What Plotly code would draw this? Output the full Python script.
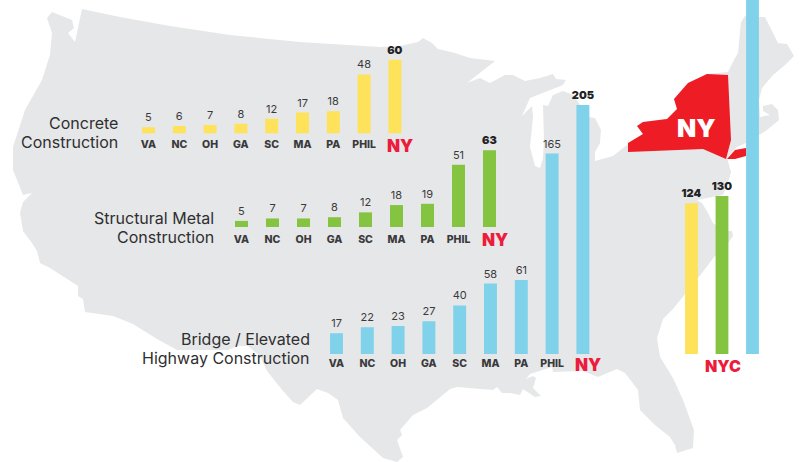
import plotly.graph_objects as go

W, H = 801, 462
FONT = "Inter"
INK = "#3a3a3c"
RED_LABEL = "#ed1c3c"

categories = ["VA", "NC", "OH", "GA", "SC", "MA", "PA", "PHIL", "NY"]
concrete_values = [5, 6, 7, 8, 12, 17, 18, 48, 60]
structural_values = [5, 7, 7, 8, 12, 18, 19, 51, 63]
bridge_values = [17, 22, 23, 27, 40, 58, 61, 165, 205]
nyc_categories = ["Concrete", "Structural Metal", "Bridge / Elevated"]
nyc_values = [124, 130, 300]  # third bar runs off the top of the picture, value estimated

# Background map silhouettes, traced in picture units
us_x = [82,120,170,230,300,380,400,418,423,432,438,455,470,495,467,480,490,505,513,525,540,553,556,566,563,550,540,530,522,532,533,530,535,540,543,544,543,548,553,563,573,589,595,601,600,595,595,613,628,
        643,637,643,667,677,674,688,707,728,735,738,741,745,759,765,770,778,787,794,785,773,762,759,760,770,763,763,772,778,779,767,759,746,737,727,731,728,723,697,702,708,713,723,732,733,728,715,698,685,673,663,657,660,673,683,694,693,677,675,670,655,640,638,625,617,598,583,553,552,545,530,526,533,536,533,541,535,523,520,510,502,497,493,457,450,427,413,400,402,397,403,397,383,360,343,338,328,317,312,300,293,283,267,260,248,237,228,177,157,133,113,85,83,78,78,50,40,37,32,23,20,23,32,23,13,13,25,42,50,52,47,52,72,74,68,75]
us_y = [9,17,26,35,42,47,46,42,38,43,49,53,58,61,83,78,83,75,75,81,78,74,79,80,85,90,94,98,116,106,117,147,166,168,158,140,105,106,95,91,95,117,118,130,143,152,161,156,144,
        134,126,122,119,109,99,83,74,72,58,53,22,16,17,17,27,43,44,56,65,75,88,100,117,115,111,106,104,110,120,130,135,143,147,158,172,183,195,200,203,213,223,231,231,236,243,256,278,294,309,319,338,357,378,400,430,448,453,445,437,425,410,390,373,369,377,371,372,367,369,374,379,376,378,388,396,397,389,395,393,393,387,390,387,389,408,415,430,435,440,457,462,458,437,418,400,393,389,394,405,402,391,371,356,346,346,350,350,339,324,316,312,299,296,286,268,263,251,243,231,213,202,193,195,170,147,110,80,55,33,18,12,20,28,33,42]
ny_state_x = [628,643,637,643,667,677,674,688,707,728,731,726,703,628]
ny_state_y = [143,134,126,122,119,109,99,83,74,75,140,159,149,152]
long_island_x = [727,735,746,746,735]
long_island_y = [159,150,148,156,159]


def norm_x(px):
    return px / W


def norm_y(px):
    return 1 - px / H


fig = go.Figure()
fig.add_trace(go.Scatter(x=us_x, y=us_y, mode="lines", fill="toself", fillcolor="#e6e7e8",
                         line=dict(color="#e6e7e8", width=0), hoverinfo="skip", showlegend=False))
for xs, ys in ((ny_state_x, ny_state_y), (long_island_x, long_island_y)):
    fig.add_trace(go.Scatter(x=xs, y=ys, mode="lines", fill="toself", fillcolor="#ee1c25",
                             line=dict(color="#ee1c25", width=0), hoverinfo="skip", showlegend=False))

layout = dict(
    width=W, height=H, margin=dict(l=0, r=0, t=0, b=0), autosize=False, showlegend=False,
    paper_bgcolor="white", plot_bgcolor="rgba(0,0,0,0)", bargap=0.58,
    font=dict(family=FONT, color=INK),
    xaxis=dict(range=[0, W], domain=[0, 1], visible=False),
    yaxis=dict(range=[H, 0], domain=[0, 1], visible=False),
)

# (categories, values, colour, first bar centre, bar spacing, baseline px, top px, px per unit,
#  tick label standoff, NY label shift)
panels = [
    (categories, concrete_values, "#fde25a", 148.5, 30.8, 133.5, 40, 1.23, 3, 0),
    (categories, structural_values, "#84c441", 241.5, 31.0, 227, 130, 1.22, 4, 0),
    (categories, bridge_values, "#7fd2e9", 336.5, 30.8, 354, 0, 1.215, 1, 2),
    (nyc_categories, nyc_values, None, 691.5, 30.5, 354, 0, 1.215, 1, 1),
]
nyc_colors = ["#fde25a", "#84c441", "#7fd2e9"]

annotations = []
for i, (cats, vals, color, c0, step, base, top, scale, standoff, ny_shift) in enumerate(panels, start=2):
    n = len(cats)
    is_nyc = cats is nyc_categories
    labels, weights, colors = [], [], []
    for c, v in zip(cats, vals):
        heavy = is_nyc or c == "NY"
        labels.append("" if v >= 291 else str(v))
        weights.append(900 if heavy else 400)
        colors.append("#222224" if heavy else "#3a3a3c")
    fig.add_trace(go.Bar(
        x=cats, y=vals, xaxis=f"x{i}", yaxis=f"y{i}",
        marker=dict(color=nyc_colors if is_nyc else color, line=dict(width=0)),
        text=labels, textposition="outside", cliponaxis=False, constraintext="none",
        textfont=dict(family=FONT, size=11, color=colors, weight=weights),
        hoverinfo="skip", showlegend=False,
    ))
    layout[f"xaxis{i}"] = dict(
        domain=[norm_x(c0 - step / 2), norm_x(c0 + (n - 0.5) * step)],
        anchor=f"y{i}", type="category", categoryorder="array", categoryarray=cats,
        range=[-0.5, n - 0.5], showgrid=False, zeroline=False, showline=False, ticks="",
        showticklabels=not is_nyc, ticklabelstandoff=standoff,
        tickmode="array", tickvals=cats,
        ticktext=["" if c == "NY" else c for c in cats],
        tickfont=dict(family=FONT, size=10.5, color="#3a3a3c", weight=800),
    )
    layout[f"yaxis{i}"] = dict(
        domain=[norm_y(base), norm_y(top)], anchor=f"x{i}",
        range=[0, (base - top) / scale], visible=False,
    )
    if not is_nyc:
        annotations.append(dict(
            x="NY", y=0, xref=f"x{i}", yref=f"y{i}", xshift=5.5, yshift=-1 + ny_shift, yanchor="top",
            text="NY", showarrow=False,
            font=dict(family=FONT, size=17, color=RED_LABEL, weight=900),
        ))

annotations.append(dict(
    x="Structural Metal", y=0, xref="x5", yref="y5", xshift=1, yshift=0, yanchor="top",
    text="NYC", showarrow=False,
    font=dict(family=FONT, size=16, color=RED_LABEL, weight=900),
))

title_lines = [("Concrete", 120, 123), ("Construction", 120, 142),
               ("Structural Metal", 216, 218), ("Construction", 216, 237),
               ("Bridge / Elevated", 312, 339), ("Highway Construction", 312, 358)]
for txt, x, y in title_lines:
    annotations.append(dict(
        x=x, y=y, xref="x", yref="y", xanchor="right", yanchor="middle", align="right",
        text=txt, showarrow=False, font=dict(family=FONT, size=16, color="#2f2f31"),
    ))
annotations.append(dict(
    x=696.5, y=128, xref="x", yref="y", text="NY", showarrow=False,
    font=dict(family=FONT, size=25, color="white", weight=900),
))

layout["annotations"] = annotations
fig.update_layout(**layout)
fig.write_html("out.html", config=dict(displayModeBar=False),
               post_script="document.body.style.margin='0';")
